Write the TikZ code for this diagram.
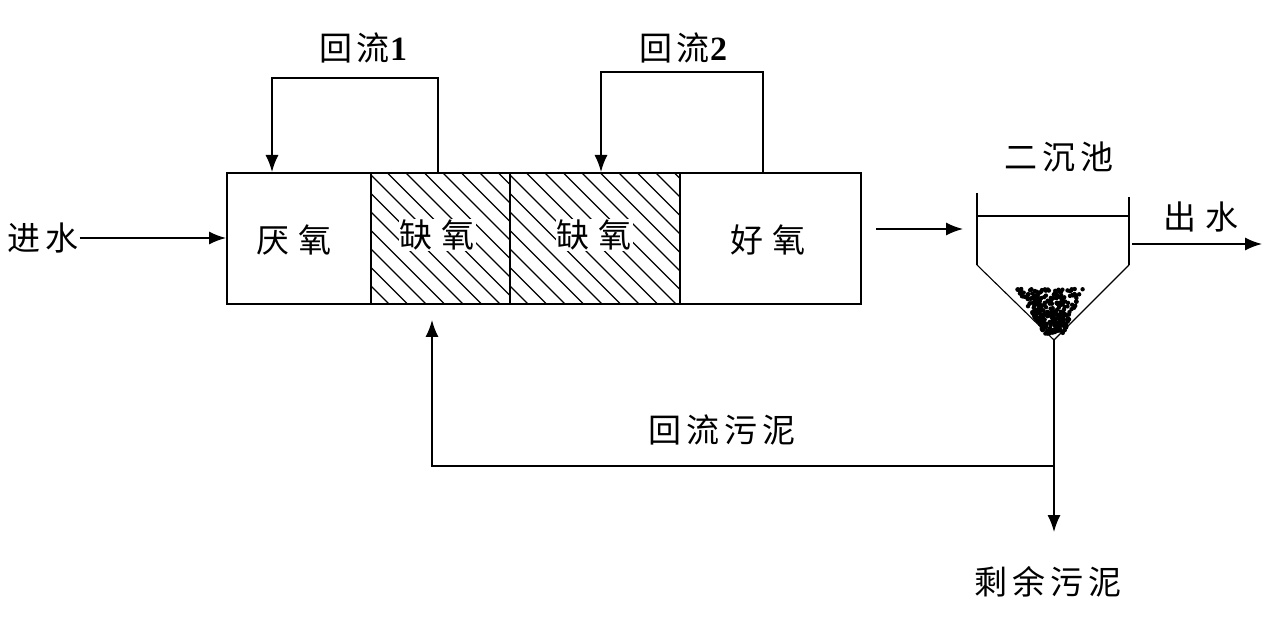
\documentclass[tikz,border=0pt]{standalone}
\usepackage{fontspec}
\setmainfont{Liberation Serif}
\newfontfamily\cjk{Noto Sans CJK SC}
\usetikzlibrary{arrows.meta}
\tikzset{
  lbl/.style={font=\cjk\fontsize{33}{35}\selectfont, inner sep=1pt},
  cell/.style={draw, line width=1.6pt, rectangle, inner sep=0pt, anchor=north west},
  hatch/.style={path picture={
     \foreach \k in {-150,-131.5,...,190}
       \draw[line width=1.1pt] ([xshift=\k pt]path picture bounding box.north west) -- ++(200,200);}},
  arr/.style={line width=1.5pt, -{Latex[length=17pt,width=13pt]}},
  pipe/.style={line width=1.5pt},
  tank/.style={line width=1.4pt},
}
\newcommand{\csp}{\hspace{9pt}}
\newcommand{\tsp}{\hspace{5pt}}
\newcommand{\dig}[1]{{\rmfamily\bfseries\fontsize{34}{36}\selectfont #1}}
\begin{document}
\begin{tikzpicture}[x=1pt,y=-1pt]
\useasboundingbox (0,0) rectangle (1280,620);
% reactor cells
\node[cell, minimum width=144, minimum height=131] (c1) at (226,172) {};
\node[cell, hatch, minimum width=139, minimum height=131] (c2) at (370,172) {};
\node[cell, hatch, minimum width=170, minimum height=131] (c3) at (509,172) {};
\node[cell, minimum width=181, minimum height=131] (c4) at (679,172) {};
% cell labels
\node[lbl] (t1) at (294,240) {厌\csp 氧};
\node[lbl, fill=white] (t2) at (437,235) {缺\csp 氧};
\node[lbl, fill=white] (t3) at (594,235) {缺\csp 氧};
\node[lbl] (t4) at (768,240) {好\csp 氧};
% other labels
\node[lbl] (in) at (43,238) {进\tsp 水};
\node[lbl] (rf1) at (363,48) {回\tsp 流\dig{1}};
\node[lbl] (rf2) at (683,48) {回\tsp 流\dig{2}};
\node[lbl] (sc) at (1059,157) {二\tsp 沉\tsp 池};
\node[lbl] (out) at (1201,217) {出\csp 水};
\node[lbl] (rs) at (722,430) {回\tsp 流\tsp 污\tsp 泥};
\node[lbl] (ws) at (1048,582) {剩\tsp 余\tsp 污\tsp 泥};
% coordinates
\coordinate (r1s) at (438,172);
\coordinate (r1e) at (272,172);
\coordinate (r2s) at (763,172);
\coordinate (r2e) at (601,172);
\coordinate (toS) at (876,229);
\coordinate (inS) at (963,229);
\coordinate (wl1) at (977,193);
\coordinate (wl2) at (977,265);
\coordinate (apex) at (1054,340);
\coordinate (wr2) at (1129,265);
\coordinate (wr1) at (1129,197);
\coordinate (lvl1) at (977,216);
\coordinate (lvl2) at (1129,216);
\coordinate (oS) at (1132,244);
\coordinate (oE) at (1262,244);
\coordinate (split) at (1054,466);
\coordinate (wE) at (1054,532);
\coordinate (rE) at (432,320);
% inflow
\draw[arr] (in.east) -- (in.east -| c1.west);
% internal recycles
\draw[arr] (r1s) -- ++(0,-94) -| (r1e);
\draw[arr] (r2s) -- ++(0,-100) -| (r2e);
% to clarifier
\draw[arr] (toS) -- (inS);
% clarifier
\draw[tank] (wl1) -- (wl2);
\draw[tank] (wr1) -- (wr2);
\draw[line width=1.1pt] (wl2) -- (apex) -- (wr2);
\draw[tank] (lvl1) -- (lvl2);
% sludge blob
\pgfmathsetseed{11}
\foreach \i in {1,...,300}{
  \pgfmathsetmacro{\v}{rnd}
  \pgfmathsetmacro{\u}{rnd}
  \pgfmathsetmacro{\hw}{33*(1-0.72*\v)}
  \pgfmathsetmacro{\yy}{289+45*\v}
  \pgfmathsetmacro{\xx}{1050+4*\v+(2*\u-1)*\hw}
  \fill (\xx,\yy) circle (2.2);
}
% outflow
\draw[arr] (oS) -- (oE);
% sludge line
\draw[pipe] (apex) -- (split);
\draw[arr] (split) -- (wE);
\draw[arr] (split) -| (rE);
\end{tikzpicture}
\end{document}
